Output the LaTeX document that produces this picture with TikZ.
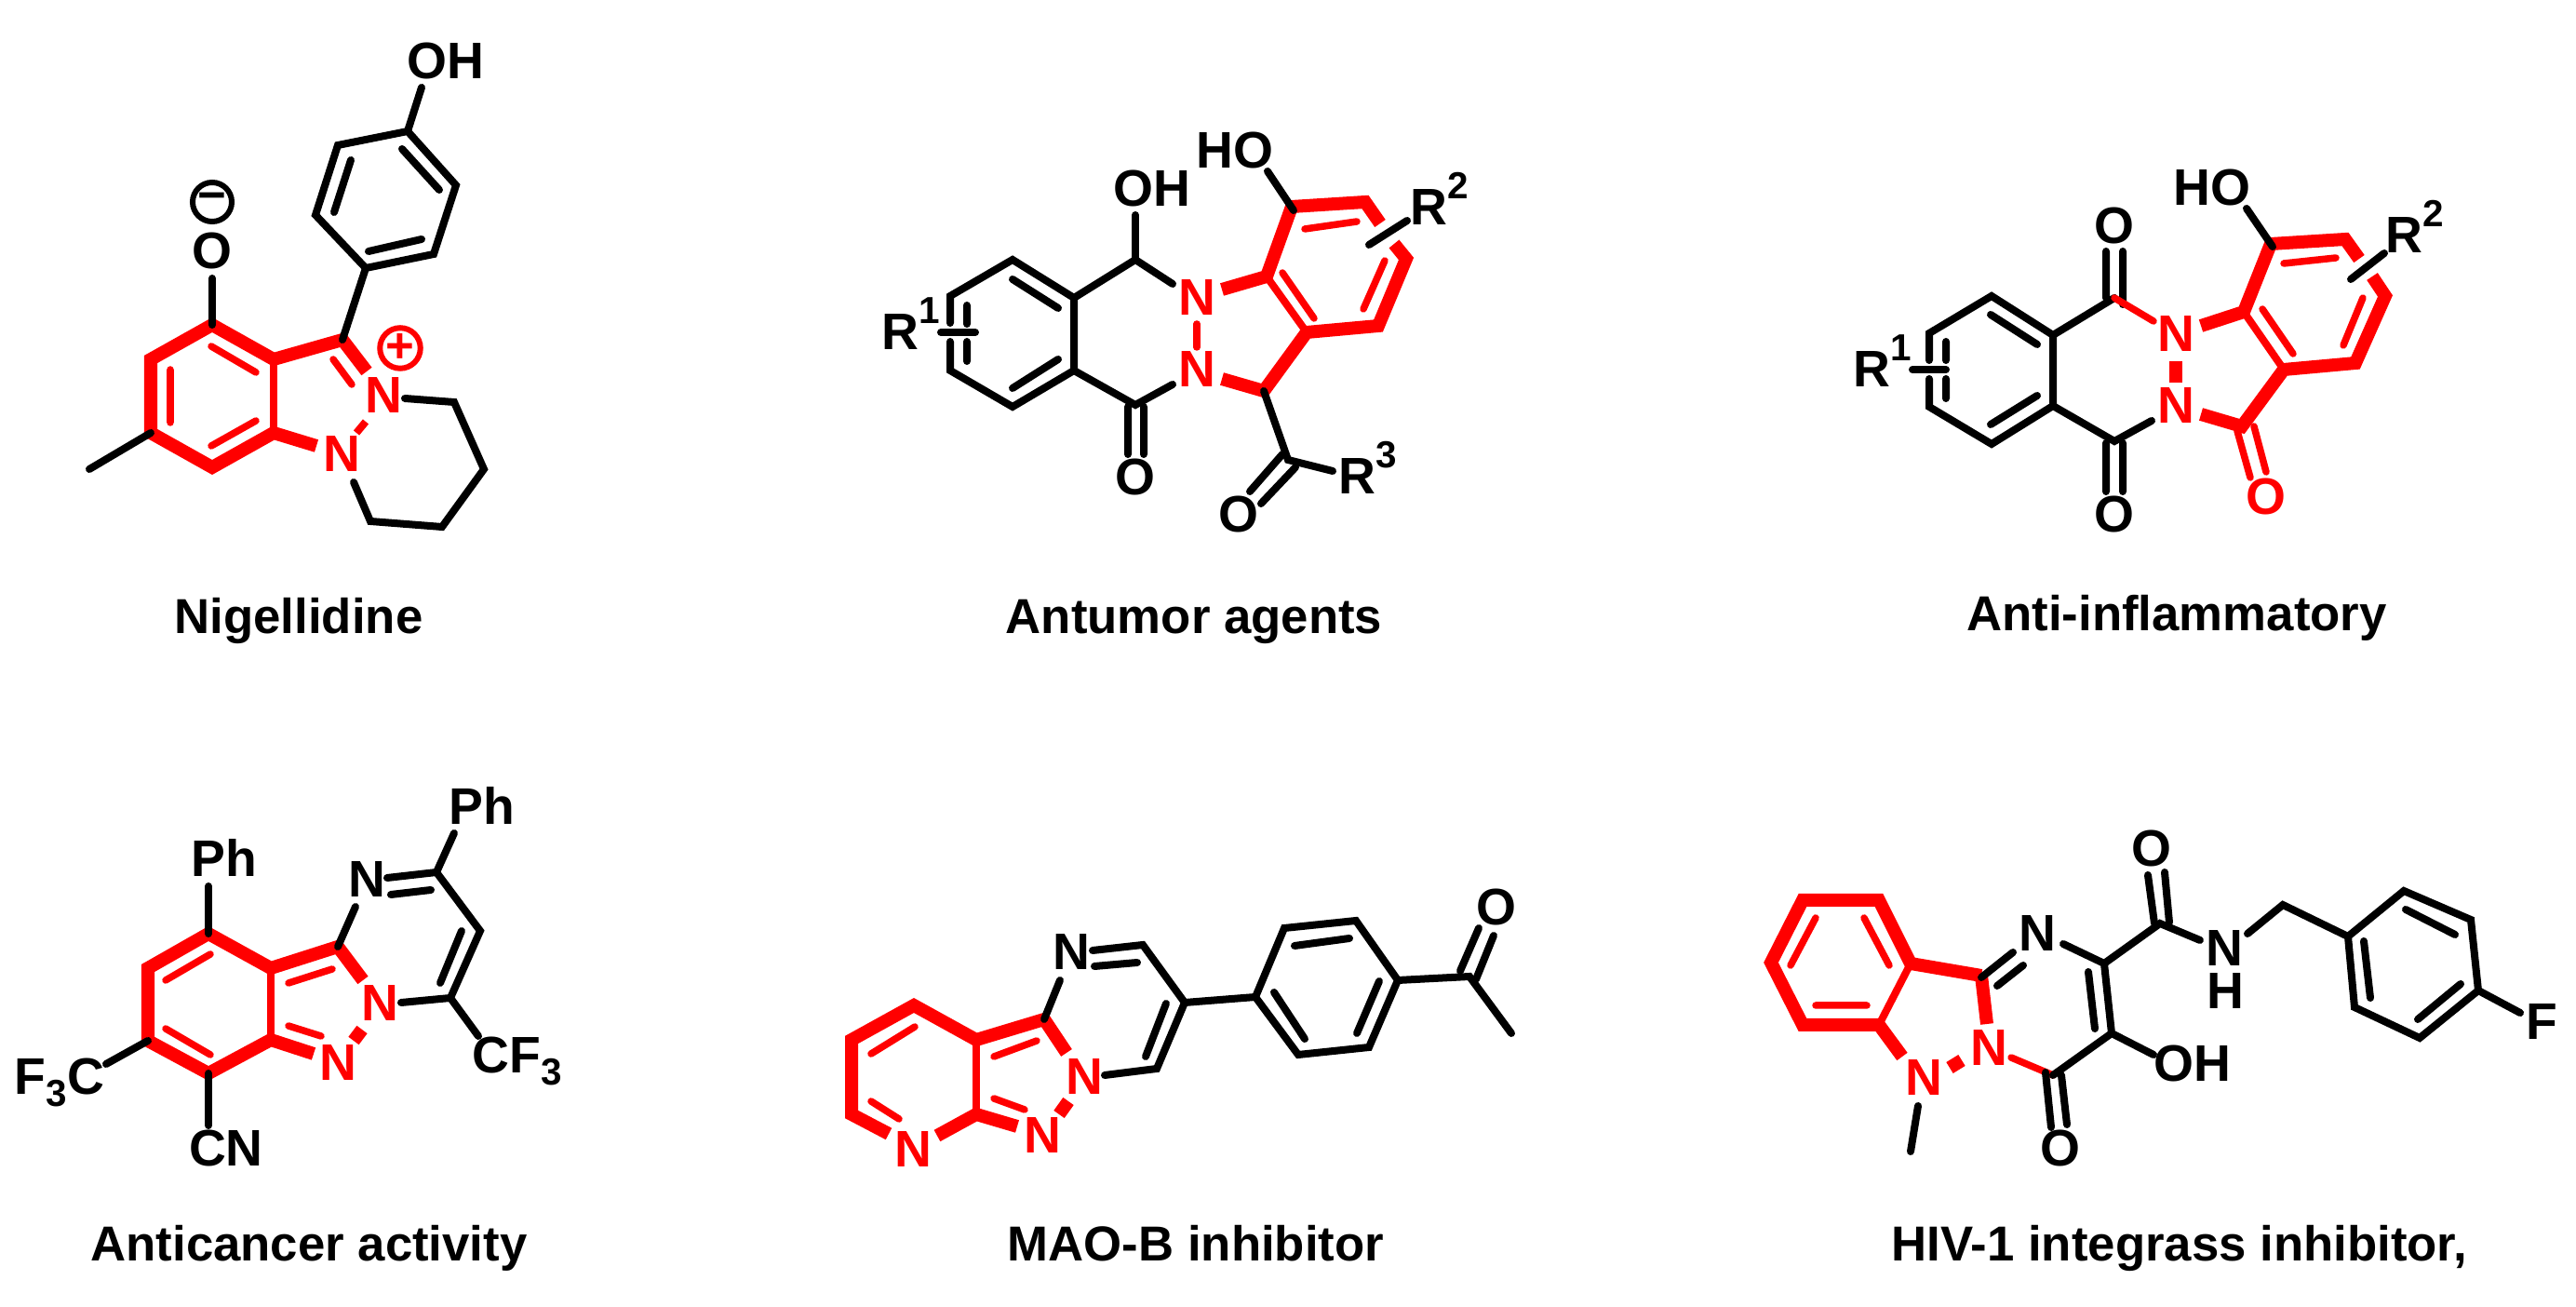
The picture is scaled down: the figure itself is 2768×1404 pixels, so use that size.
\documentclass[tikz,border=0pt]{standalone}
\usepackage{fontspec}
\setmainfont{Liberation Sans}
\newcommand{\upnum}[1]{\raisebox{0.52em}{\fontsize{11.5}{11.5}\selectfont #1}}
\newcommand{\dnnum}[1]{\raisebox{-0.22em}{\fontsize{11.5}{11.5}\selectfont #1}}
\tikzset{
    black_bond/.style={draw=black,line width=0.08cm,line cap=round,line join=miter},
    red_bond/.style={draw=red,line width=0.075cm,line cap=round},
    red_fuse/.style={draw=red,line width=0.08cm,line cap=butt},
    red_thick/.style={draw=red,line width=0.14cm,line cap=butt,line join=miter},
    atom/.style={anchor=base,inner sep=0pt,font=\fontsize{15.7}{18}\selectfont\bfseries},
    red_atom/.style={atom,text=red},
    title_text/.style={anchor=base,inner sep=0pt,font=\fontsize{15}{18}\selectfont\bfseries},
    charge/.style={circle,draw,line width=0.06cm,minimum size=0.42cm,inner sep=0pt,font=\fontsize{15}{15}\selectfont\bfseries}
}
\begin{document}
\begin{tikzpicture}[x=0.01cm,y=-0.01cm]
    \useasboundingbox (0,0) rectangle (2768,1404);

    % Nigellidine
    \path (228,349) coordinate (a1) (162,386) coordinate (a2) (162,465) coordinate (a3)
    (228,502) coordinate (a4) (294,465) coordinate (a5) (294,386) coordinate (a6)
    (368,365) coordinate (a7) (394,399) coordinate (a8) (340,479) coordinate (a9)
    (393,453) coordinate (a10) (383,465) coordinate (a11);
    \draw[red_thick] (a9) -- (a5) -- (a4) -- (a3) -- (a2) -- (a1) -- (a6) -- (a7) -- (a8);
    \draw[red_fuse] (a5) -- (a6);
    \draw[red_fuse] (a10) -- (a11);
    \draw[red_bond] (358,386) -- (378,413) (227,372) -- (275,400) (183,397) -- (183,454) (227,479) -- (275,452);
    \path (393,288) coordinate (a12) (466,273) coordinate (a13) (490,199) coordinate (a14)
    (438,141) coordinate (a15) (363,156) coordinate (a16) (339,231) coordinate (a17)
    (453,94) coordinate (a18) (228,299) coordinate (a19) (96,504) coordinate (a20)
    (435,428) coordinate (a21) (488,432) coordinate (a22) (520,504) coordinate (a23)
    (475,566) coordinate (a24) (398,560) coordinate (a25) (380,518) coordinate (a26);
    \draw[black_bond] (a7) -- (a12);
    \draw[black_bond] (a12) -- (a13) -- (a14) -- (a15) -- (a16) -- (a17) -- cycle;
    \draw[black_bond] (a15) -- (a18);
    \draw[black_bond] (a1) -- (a19);
    \draw[black_bond] (a3) -- (a20);
    \draw[black_bond] (a21) -- (a22) -- (a23) -- (a24) -- (a25) -- (a26);
    \draw[black_bond] (396,270) -- (453,257) (472,204) -- (432,160) (377,172) -- (359,228);
    \node[atom] (a_oh) at (479,85) {OH};
    \node[atom] (a_o) at (228,289) {O};
    \node[red_atom] (a_n1) at (412,444) {N};
    \node[red_atom] (a_n2) at (367,507) {N};
    \node[charge] (a_minus) at (228,217) {−};
    \node[charge,draw=red,text=red] (a_plus) at (430,374) {+};
    \node[title_text] (a_name) at (321,681) {Nigellidine};

    % Antumor agents
    \path (1088,279) coordinate (b1) (1021,318) coordinate (b2) (1021,347) coordinate (b3)
    (1021,367) coordinate (b4) (1021,398) coordinate (b5) (1088,437) coordinate (b6)
    (1154,398) coordinate (b7) (1154,320) coordinate (b8) (1220,279) coordinate (b9)
    (1260,305) coordinate (b10) (1220,435) coordinate (b11) (1260,413) coordinate (b12)
    (1220,231) coordinate (b13) (1011,357) coordinate (b14) (1048,357) coordinate (b15);
    \draw[black_bond] (b3) -- (b2) -- (b1) -- (b8) -- (b7) -- (b6) -- (b5) -- (b4);
    \draw[black_bond] (b8) -- (b9) -- (b10);
    \draw[black_bond] (b7) -- (b11) -- (b12);
    \draw[black_bond] (b9) -- (b13);
    \draw[black_bond] (b14) -- (b15);
    \draw[black_bond] (1039,328) -- (1039,348) (1039,367) -- (1039,388) (1088,300) -- (1137,331) (1088,417) -- (1137,386)
    (1212,437) -- (1212,488) (1229,437) -- (1229,488);
    \path (1313,311) coordinate (b16) (1361,297) coordinate (b17) (1388,222) coordinate (b18)
    (1467,217) coordinate (b19) (1483,240) coordinate (b20) (1498,262) coordinate (b21)
    (1511,278) coordinate (b22) (1481,350) coordinate (b23) (1404,357) coordinate (b24)
    (1358,420) coordinate (b25) (1313,407) coordinate (b26) (1286,348) coordinate (b27)
    (1286,373) coordinate (b28);
    \draw[red_thick] (b16) -- (b17) -- (b18) -- (b19) -- (b20);
    \draw[red_thick] (b21) -- (b22) -- (b23) -- (b24) -- (b25) -- (b26);
    \draw[red_fuse] (b17) -- (b24);
    \draw[red_bond] (b27) -- (b28);
    \draw[red_bond] (1402,246) -- (1458,238) (1488,280) -- (1465,332) (1378,293) -- (1412,342);
    \path (1471,263) coordinate (b29) (1512,237) coordinate (b30) (1362,184) coordinate (b31)
    (1390,226) coordinate (b32) (1384,494) coordinate (b33) (1432,506) coordinate (b34);
    \draw[black_bond] (b29) -- (b30);
    \draw[black_bond] (b31) -- (b32);
    \draw[black_bond] (b25) -- (b33) -- (b34);
    \draw[black_bond] (1378,488) -- (1343,528) (1392,502) -- (1355,541);
    \node[atom] (b_r1) at (979,376) {R\upnum{1}};
    \node[atom] (b_oh) at (1238,222) {OH};
    \node[atom] (b_ho) at (1327,181) {HO};
    \node[atom] (b_r2) at (1547,242) {R\upnum{2}};
    \node[atom] (b_r3) at (1470,531) {R\upnum{3}};
    \node[atom] (b_o1) at (1220,532) {O};
    \node[atom] (b_o2) at (1331,572) {O};
    \node[red_atom] (b_n1) at (1286,339) {N};
    \node[red_atom] (b_n2) at (1286,416) {N};
    \node[title_text] (b_name) at (1283,681) {Antumor agents};

    % Anti-inflammatory
    \path (2140,318) coordinate (c1) (2073,358) coordinate (c2) (2073,387) coordinate (c3)
    (2073,407) coordinate (c4) (2073,437) coordinate (c5) (2140,477) coordinate (c6)
    (2206,436) coordinate (c7) (2206,360) coordinate (c8) (2272,320) coordinate (c9)
    (2272,474) coordinate (c10) (2312,452) coordinate (c11) (2055,397) coordinate (c12)
    (2091,397) coordinate (c13);
    \draw[black_bond] (c3) -- (c2) -- (c1) -- (c8) -- (c7) -- (c6) -- (c5) -- (c4);
    \draw[black_bond] (c8) -- (c9);
    \draw[black_bond] (c7) -- (c10) -- (c11);
    \draw[black_bond] (c12) -- (c13);
    \draw[black_bond] (2091,367) -- (2091,387) (2091,407) -- (2091,428) (2139,338) -- (2189,370) (2139,456) -- (2189,425)
    (2263,270) -- (2263,320) (2281,270) -- (2281,327) (2263,476) -- (2263,528) (2281,476) -- (2281,528);
    \path (2314,345) coordinate (c14) (2365,350) coordinate (c15) (2411,335) coordinate (c16)
    (2440,262) coordinate (c17) (2520,257) coordinate (c18) (2535,278) coordinate (c19)
    (2549,297) coordinate (c20) (2563,318) coordinate (c21) (2531,390) coordinate (c22)
    (2454,397) coordinate (c23) (2409,458) coordinate (c24) (2365,445) coordinate (c25)
    (2338,388) coordinate (c26) (2338,411) coordinate (c27);
    \draw[red_bond] (c9) -- (c14);
    \draw[red_thick] (c15) -- (c16) -- (c17) -- (c18) -- (c19);
    \draw[red_thick] (c20) -- (c21) -- (c22) -- (c23) -- (c24) -- (c25);
    \draw[red_fuse] (c16) -- (c23);
    \draw[red_thick] (c26) -- (c27);
    \draw[red_bond] (2454,283) -- (2510,277) (2539,320) -- (2518,371) (2431,332) -- (2464,380)
    (2404,463) -- (2418,513) (2422,458) -- (2435,507);
    \path (2526,300) coordinate (c28) (2562,272) coordinate (c29) (2414,224) coordinate (c30)
    (2442,265) coordinate (c31);
    \draw[black_bond] (c28) -- (c29);
    \draw[black_bond] (c30) -- (c31);
    \node[atom] (c_r1) at (2023,416) {R\upnum{1}};
    \node[atom] (c_ho) at (2377,221) {HO};
    \node[atom] (c_r2) at (2595,272) {R\upnum{2}};
    \node[atom] (c_o1) at (2272,262) {O};
    \node[atom] (c_o2) at (2272,572) {O};
    \node[red_atom] (c_o3) at (2435,553) {O};
    \node[red_atom] (c_n1) at (2338,378) {N};
    \node[red_atom] (c_n2) at (2338,455) {N};
    \node[title_text] (c_name) at (2339,678) {Anti-inflammatory};

    % Anticancer activity
    \path (224,1003) coordinate (d1) (159,1040) coordinate (d2) (159,1118) coordinate (d3)
    (224,1153) coordinate (d4) (291,1117) coordinate (d5) (291,1040) coordinate (d6)
    (363,1017) coordinate (d7) (390,1053) coordinate (d8) (337,1132) coordinate (d9)
    (389,1106) coordinate (d10) (380,1118) coordinate (d11);
    \draw[red_thick] (d9) -- (d5) -- (d4) -- (d3) -- (d2) -- (d1) -- (d6) -- (d7) -- (d8);
    \draw[red_fuse] (d5) -- (d6);
    \draw[red_thick] (d10) -- (d11);
    \draw[red_bond] (310,1056) -- (357,1041) (310,1102) -- (345,1113) (178,1053) -- (226,1025) (178,1105) -- (226,1133);
    \path (224,952) coordinate (d12) (224,1209) coordinate (d13) (114,1143) coordinate (d14)
    (382,974) coordinate (d15) (469,937) coordinate (d16) (488,895) coordinate (d17)
    (516,1000) coordinate (d18) (484,1072) coordinate (d19) (431,1077) coordinate (d20)
    (514,1113) coordinate (d21) (416,943) coordinate (d22);
    \draw[black_bond] (d1) -- (d12);
    \draw[black_bond] (d4) -- (d13);
    \draw[black_bond] (d3) -- (d14);
    \draw[black_bond] (d7) -- (d15);
    \draw[black_bond] (d22) -- (d16) -- (d18) -- (d19) -- (d20);
    \draw[black_bond] (d16) -- (d17);
    \draw[black_bond] (d19) -- (d21);
    \draw[black_bond] (420,961) -- (463,956) (496,1000) -- (473,1056);
    \node[atom] (d_ph1) at (241,942) {Ph};
    \node[atom] (d_ph2) at (518,886) {Ph};
    \node[atom] (d_cn) at (243,1253) {CN};
    \node[atom] (d_cf1) at (64,1176) {F\dnnum{3}C};
    \node[atom] (d_cf2) at (556,1153) {CF\dnnum{3}};
    \node[atom] (d_n1) at (394,964) {N};
    \node[red_atom] (d_n2) at (408,1097) {N};
    \node[red_atom] (d_n3) at (363,1161) {N};
    \node[title_text] (d_name) at (332,1355) {Anticancer activity};

    % MAO-B inhibitor
    \path (982,1080) coordinate (e1) (915,1117) coordinate (e2) (915,1197) coordinate (e3)
    (955,1218) coordinate (e4) (1007,1220) coordinate (e5) (1049,1197) coordinate (e6)
    (1049,1117) coordinate (e7) (1122,1095) coordinate (e8) (1146,1131) coordinate (e9)
    (1093,1210) coordinate (e10) (1148,1183) coordinate (e11) (1138,1197) coordinate (e12);
    \draw[red_thick] (e4) -- (e3) -- (e2) -- (e1) -- (e7) -- (e8) -- (e9);
    \draw[red_thick] (e5) -- (e6) -- (e10);
    \draw[red_fuse] (e6) -- (e7);
    \draw[red_thick] (e11) -- (e12);
    \draw[red_bond] (1068,1135) -- (1114,1118) (1068,1180) -- (1101,1192) (936,1132) -- (983,1103) (936,1183) -- (966,1202);
    \path (1139,1053) coordinate (e13) (1174,1021) coordinate (e14) (1228,1015) coordinate (e15)
    (1273,1077) coordinate (e16) (1243,1148) coordinate (e17) (1187,1155) coordinate (e18)
    (1349,1071) coordinate (e19) (1380,997) coordinate (e20) (1457,989) coordinate (e21)
    (1502,1053) coordinate (e22) (1471,1125) coordinate (e23) (1395,1133) coordinate (e24)
    (1579,1049) coordinate (e25) (1624,1110) coordinate (e26);
    \draw[black_bond] (e8) -- (e13);
    \draw[black_bond] (e14) -- (e15) -- (e16) -- (e17) -- (e18);
    \draw[black_bond] (e16) -- (e19);
    \draw[black_bond] (e19) -- (e20) -- (e21) -- (e22) -- (e23) -- (e24) -- cycle;
    \draw[black_bond] (e22) -- (e25) -- (e26);
    \draw[black_bond] (1176,1038) -- (1222,1034) (1253,1078) -- (1231,1135) (1391,1016) -- (1450,1008) (1482,1054) -- (1458,1110)
    (1369,1066) -- (1402,1116) (1569,1043) -- (1589,997) (1586,1052) -- (1605,1005);
    \node[atom] (e_o) at (1608,994) {O};
    \node[atom] (e_n1) at (1151,1042) {N};
    \node[red_atom] (e_n2) at (1165,1176) {N};
    \node[red_atom] (e_n3) at (1120,1239) {N};
    \node[red_atom] (e_n4) at (981,1254) {N};
    \node[title_text] (e_name) at (1285,1355) {MAO-B inhibitor};

    % HIV-1 integrass inhibitor
    \path (1937,967) coordinate (f1) (2019,967) coordinate (f2) (2053,1035) coordinate (f3)
    (2019,1101) coordinate (f4) (1937,1101) coordinate (f5) (1903,1034) coordinate (f6)
    (2129,1048) coordinate (f7) (2135,1100) coordinate (f8) (2044,1135) coordinate (f9)
    (2095,1147) coordinate (f10) (2108,1139) coordinate (f11) (2161,1136) coordinate (f12)
    (2206,1155) coordinate (f13);
    \draw[red_thick] (f7) -- (f3) -- (f2) -- (f1) -- (f6) -- (f5) -- (f4) -- (f9);
    \draw[red_thick] (f7) -- (f8);
    \draw[red_fuse] (f3) -- (f4);
    \draw[red_thick] (f10) -- (f11);
    \draw[red_bond] (f12) -- (f13);
    \draw[red_bond] (1951,986) -- (1924,1037) (2003,986) -- (2030,1037) (1951,1080) -- (2006,1080);
    \path (2163,1023) coordinate (f14) (2217,1014) coordinate (f15) (2261,1035) coordinate (f16)
    (2269,1110) coordinate (f17) (2314,1133) coordinate (f18) (2321,992) coordinate (f19)
    (2364,1010) coordinate (f20) (2415,1003) coordinate (f21) (2453,972) coordinate (f22)
    (2523,1006) coordinate (f23) (2583,957) coordinate (f24) (2655,988) coordinate (f25)
    (2663,1064) coordinate (f26) (2600,1115) coordinate (f27) (2530,1082) coordinate (f28)
    (2708,1088) coordinate (f29) (2061,1188) coordinate (f30) (2053,1237) coordinate (f31)
    (2129,1050) coordinate (f32);
    \draw[black_bond] (f32) -- (f14);
    \draw[black_bond] (f15) -- (f16) -- (f17) -- (f13);
    \draw[black_bond] (f17) -- (f18);
    \draw[black_bond] (f16) -- (f19) -- (f20);
    \draw[black_bond] (f21) -- (f22) -- (f23);
    \draw[black_bond] (f23) -- (f24) -- (f25) -- (f26) -- (f27) -- (f28) -- cycle;
    \draw[black_bond] (f26) -- (f29);
    \draw[black_bond] (f30) -- (f31);
    \draw[black_bond] (2146,1059) -- (2174,1037) (2244,1044) -- (2251,1105) (2198,1152) -- (2204,1211) (2215,1155) -- (2221,1208)
    (2308,940) -- (2315,992) (2326,937) -- (2331,991) (2585,977) -- (2638,1004) (2644,1057) -- (2598,1095) (2540,1011) -- (2547,1072);
    \node[atom] (f_n1) at (2189,1022) {N};
    \node[atom] (f_nh1) at (2390,1038) {N};
    \node[atom] (f_nh2) at (2391,1084) {H};
    \node[atom] (f_oh) at (2356,1162) {OH};
    \node[atom] (f_o1) at (2214,1253) {O};
    \node[atom] (f_o2) at (2312,931) {O};
    \node[atom] (f_f) at (2731,1117) {F};
    \node[red_atom] (f_n2) at (2137,1145) {N};
    \node[red_atom] (f_n3) at (2067,1177) {N};
    \node[title_text] (f_name) at (2342,1355) {HIV-1 integrass inhibitor,};
\end{tikzpicture}
\end{document}
